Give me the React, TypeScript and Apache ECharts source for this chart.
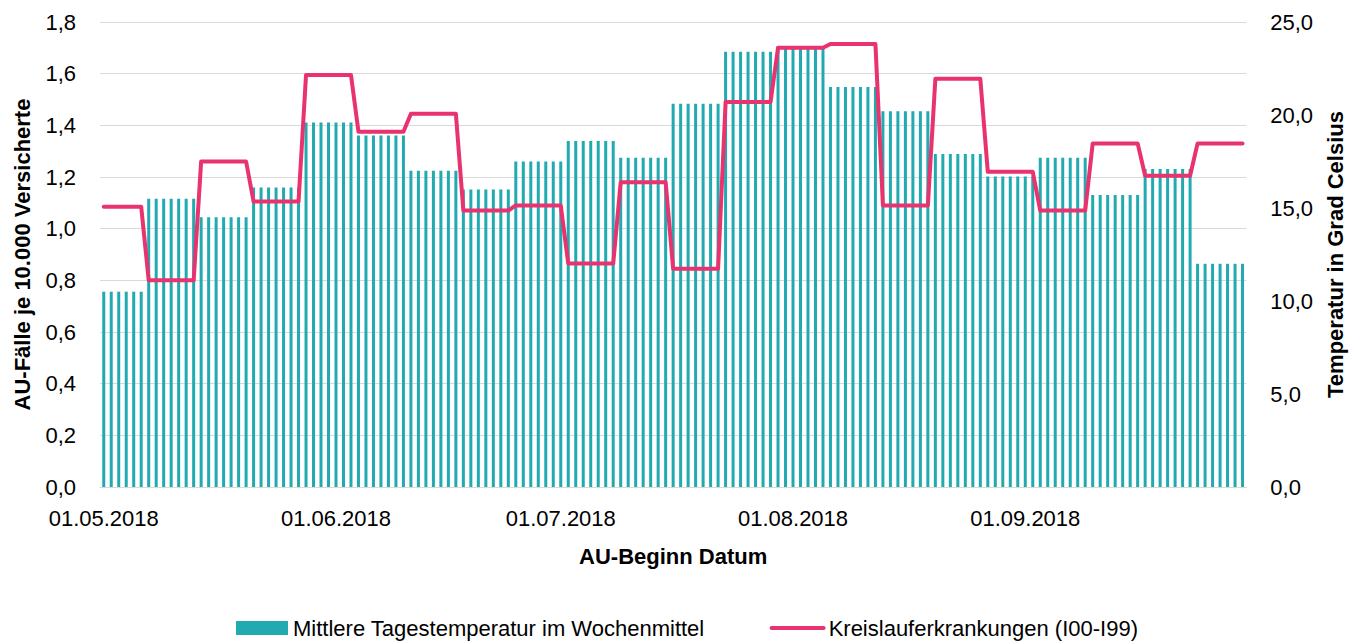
import React, { useEffect, useRef } from "react";
import * as echarts from "echarts";

// Weekly data (ISO weeks, Monday start), first week is partial (01.05.–06.05.)
const weekLengths = [6, 7, 7, 7, 7, 7, 7, 7, 7, 7, 7, 7, 7, 7, 7, 7, 7, 7, 7, 7, 7, 7];
const weeklyTemperature = [
  10.5, 15.5, 14.5, 16.1, 19.6, 18.9, 17.0, 16.0, 17.5, 18.6, 17.7,
  20.6, 23.4, 23.7, 21.5, 20.2, 17.9, 16.7, 17.7, 15.7, 17.1, 12.0,
];
const weeklyCases = [
  1.085, 0.8, 1.26, 1.105, 1.595, 1.375, 1.445, 1.07, 1.09, 0.865, 1.18,
  0.845, 1.49, 1.7, 1.715, 1.09, 1.58, 1.22, 1.07, 1.33, 1.205, 1.33,
];
const startDate = [2018, 4, 1]; // 01.05.2018 (month 0-based)
const leftTicks = { min: 0, max: 1.8, interval: 0.2 };
const rightTicks = { min: 0, max: 25, interval: 5 };

const TEAL = "#21AAB0";
const PINK = "#E8336F";
const FONT = "'Liberation Sans', Arial, Helvetica, sans-serif";

function buildDays(): string[] {
  const total = weekLengths.reduce((a, b) => a + b, 0);
  const out: string[] = [];
  for (let i = 0; i < total; i++) {
    const d = new Date(Date.UTC(startDate[0], startDate[1], startDate[2] + i));
    const dd = String(d.getUTCDate()).padStart(2, "0");
    const mm = String(d.getUTCMonth() + 1).padStart(2, "0");
    out.push(`${dd}.${mm}.${d.getUTCFullYear()}`);
  }
  return out;
}

function expand(weekly: number[]): number[] {
  const out: number[] = [];
  weekly.forEach((v, i) => {
    for (let k = 0; k < weekLengths[i]; k++) out.push(v);
  });
  return out;
}

const comma = (v: number) => v.toFixed(1).replace(".", ",");

export default function App() {
  const ref = useRef<HTMLDivElement>(null);
  useEffect(() => {
    document.body.style.margin = "0";
    const chart = echarts.init(ref.current!, undefined, { renderer: "svg" });
    const days = buildDays();
    chart.setOption({
      animation: false,
      backgroundColor: "#ffffff",
      textStyle: { fontFamily: FONT },
      grid: { left: 100, right: 99, top: 22, bottom: 156, containLabel: false },
      legend: {
        left: 231,
        top: 612,
        itemWidth: 52,
        itemHeight: 14,
        itemGap: 65,
        textStyle: { fontSize: 22, color: "#000", fontFamily: FONT },
        data: [
          { name: "Mittlere Tagestemperatur im Wochenmittel", icon: "rect" },
          {
            name: "Kreislauferkrankungen (I00-I99)",
            itemStyle: { color: "rgba(0,0,0,0)", borderWidth: 0, opacity: 0 },
            lineStyle: { color: PINK, width: 4 },
          },
        ],
      },
      xAxis: {
        type: "category",
        data: days,
        boundaryGap: true,
        name: "AU-Beginn Datum",
        nameLocation: "middle",
        nameGap: 58,
        nameTextStyle: { fontSize: 22, fontWeight: "bold", color: "#000", fontFamily: FONT },
        axisLine: { lineStyle: { color: "#D9D9D9", width: 1 } },
        axisTick: { show: false },
        axisLabel: {
          fontSize: 22,
          color: "#000",
          margin: 20,
          interval: (idx: number, val: string) => val.startsWith("01."),
        },
      },
      yAxis: [
        {
          type: "value",
          min: leftTicks.min,
          max: leftTicks.max,
          interval: leftTicks.interval,
          name: "AU-Fälle je 10.000 Versicherte",
          nameLocation: "middle",
          nameRotate: 90,
          nameGap: 67,
          nameTextStyle: { fontSize: 22, fontWeight: "bold", color: "#000", fontFamily: FONT },
          axisLine: { show: false },
          axisTick: { show: false },
          axisLabel: { fontSize: 22, color: "#000", margin: 24, formatter: comma },
          splitLine: { lineStyle: { color: "#D9D9D9", width: 1 } },
        },
        {
          type: "value",
          min: rightTicks.min,
          max: rightTicks.max,
          interval: rightTicks.interval,
          name: "Temperatur in Grad Celsius",
          nameLocation: "middle",
          nameRotate: 90,
          nameGap: 77,
          nameTextStyle: { fontSize: 22, fontWeight: "bold", color: "#000", fontFamily: FONT },
          axisLine: { show: false },
          axisTick: { show: false },
          axisLabel: { fontSize: 22, color: "#000", margin: 24, formatter: comma },
          splitLine: { show: false },
        },
      ],
      series: [
        {
          name: "Mittlere Tagestemperatur im Wochenmittel",
          type: "bar",
          yAxisIndex: 1,
          data: expand(weeklyTemperature),
          barWidth: 3,
          itemStyle: { color: TEAL },
          z: 2,
        },
        {
          name: "Kreislauferkrankungen (I00-I99)",
          type: "line",
          yAxisIndex: 0,
          data: expand(weeklyCases),
          symbol: "none",
          lineStyle: { color: PINK, width: 4, cap: "round", join: "round" },
          itemStyle: { color: PINK },
          z: 3,
        },
      ],
    });
    return () => chart.dispose();
  }, []);
  return (
    <div
      ref={ref}
      style={{ position: "fixed", left: 0, top: 0, width: 1354, height: 643 }}
    />
  );
}
